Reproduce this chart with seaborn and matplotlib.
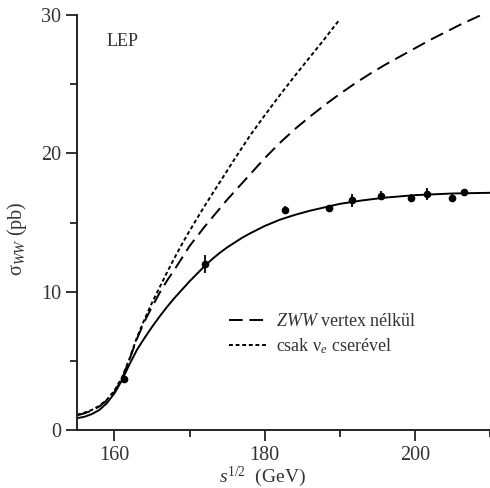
import matplotlib
matplotlib.use('Agg')
import matplotlib.pyplot as plt
import seaborn as sns
from matplotlib.ticker import MultipleLocator

# measured LEP points
sqrt_s = [161.3, 172.1, 182.7, 188.6, 191.6, 195.5, 199.5, 201.6, 204.9, 206.6]
sigma = [3.7, 12.0, 15.9, 16.05, 16.6, 16.95, 16.8, 17.05, 16.8, 17.2]
sigma_err = [0.2, 0.65, 0.3, 0.15, 0.45, 0.3, 0.25, 0.45, 0.25, 0.25]

# Standard Model curve
sm_x = [155, 156, 157, 158, 159, 160, 161, 162, 163, 164, 165, 166, 167, 168,
        169, 170, 171, 172, 173, 174, 175, 176, 177, 178, 180, 182, 184, 186,
        188, 190, 193, 196, 200, 205, 210]
sm_y = [0.85, 0.95, 1.15, 1.45, 1.95, 2.65, 3.6, 4.75, 5.8, 6.65, 7.45, 8.2, 8.9, 9.55,
        10.15, 10.75, 11.3, 11.85, 12.35, 12.8, 13.2, 13.55, 13.9, 14.2, 14.75, 15.2, 15.55, 15.85,
        16.1, 16.35, 16.6, 16.8, 16.98, 17.1, 17.15]

# without ZWW vertex
nozww_x = [155, 156, 157, 158, 159, 160, 161, 162, 163, 164, 165, 166, 167, 168,
           169, 170, 171, 172, 173, 174, 175, 176, 177, 178, 180, 182, 184, 186,
           188, 190, 192, 194, 196, 198, 200, 202, 204, 206, 208, 210]
nozww_y = [1.05, 1.2, 1.4, 1.7, 2.15, 2.75, 3.7, 5.1, 6.6, 7.85, 8.9, 9.9, 10.8, 11.6,
           12.45, 13.3, 14.0, 14.7, 15.35, 16.0, 16.65, 17.25, 17.85, 18.45, 19.65, 20.75, 21.75, 22.65,
           23.5, 24.3, 25.05, 25.75, 26.4, 27.0, 27.6, 28.2, 28.75, 29.3, 29.8, 30.3]

# only nu_e exchange
nue_x = [155, 156, 157, 158, 159, 160, 161, 162, 163, 164, 165, 166, 167, 168,
         169, 170, 171, 172, 173, 174, 176, 178, 180, 182, 184, 186, 188, 190]
nue_y = [1.1, 1.25, 1.45, 1.75, 2.2, 2.85, 3.8, 5.15, 6.7, 8.0, 9.2, 10.3, 11.4, 12.45,
         13.45, 14.4, 15.3, 16.2, 17.05, 17.9, 19.6, 21.25, 22.75, 24.2, 25.6, 26.95, 28.3, 29.7]

sns.set_style("ticks")
plt.rcParams['font.family'] = ['Liberation Serif', 'DejaVu Serif']
plt.rcParams['mathtext.fontset'] = 'custom'
plt.rcParams['mathtext.rm'] = 'Liberation Serif'
plt.rcParams['mathtext.it'] = 'Liberation Serif:italic'

fig = plt.figure(figsize=(4.9, 4.88), dpi=100)
ax = fig.add_axes([0.157, 0.119, 0.843, 0.85])

sns.lineplot(x=sm_x, y=sm_y, ax=ax, color='black', lw=1.4)
sns.lineplot(x=nozww_x, y=nozww_y, ax=ax, color='black', lw=1.4,
             label='$ZWW$ vertex nélkül')
sns.lineplot(x=nue_x, y=nue_y, ax=ax, color='black', lw=1.4,
             label='csak ν$_e$ cserével')
ax.lines[1].set_dashes([7, 3.5])
ax.lines[2].set_dashes([2, 1.4])

ax.errorbar(sqrt_s, sigma, yerr=sigma_err, fmt='o', color='black',
            markersize=4.5, elinewidth=1.3, capsize=0)

ax.set_xlim(155, 210)
ax.set_ylim(0, 30)
ax.set_xticks([160, 180, 200])
ax.xaxis.set_minor_locator(MultipleLocator(10))
ax.yaxis.set_major_locator(MultipleLocator(10))
ax.yaxis.set_minor_locator(MultipleLocator(5))
ax.tick_params(which='major', length=8, width=1.3, labelsize=14.5, color='#222222', labelcolor='#333333')
ax.tick_params(which='minor', length=5, width=1.3, color='#222222')
for sp in ['left', 'bottom']:
    ax.spines[sp].set_linewidth(1.4)
    ax.spines[sp].set_color('#222222')
sns.despine(ax=ax)

ax.set_xlabel('$s^{1/2}$  (GeV)', fontsize=14, color='#333333')
ax.xaxis.set_label_coords(0.45, -0.084)
ax.set_ylabel('σ$_{WW}$ (pb)', fontsize=14.5, color='#333333')
ax.yaxis.set_label_coords(-0.115, 0.46)
ax.text(158.9, 28.1, 'LEP', fontsize=13, color='#333333', va='center')

leg = ax.legend(loc='lower left', bbox_to_anchor=(0.33, 0.14), frameon=False,
                fontsize=13, handlelength=2.0, handletextpad=0.6, labelspacing=0.3)
leg.get_lines()[0].set_dashes([7, 3.5])
leg.get_lines()[1].set_dashes([2, 1.4])
for t in leg.get_texts():
    t.set_color('#333333')

fig.savefig('out.png', dpi=100)
